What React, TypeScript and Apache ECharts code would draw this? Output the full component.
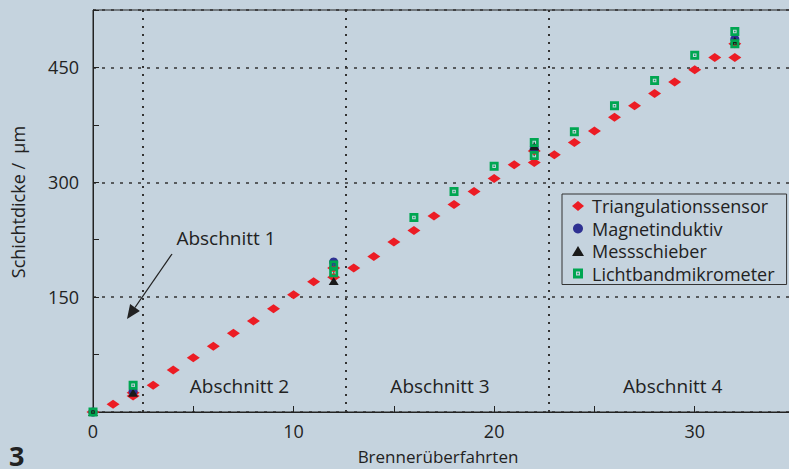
import React, { useEffect, useRef } from "react";
import * as echarts from "echarts";

const triX = [0, 1, 2, 2, 3, 4, 5, 6, 7, 8, 9, 10, 11, 12, 12, 13, 14, 15, 16, 17, 18, 19, 20, 21, 22, 22, 23, 24, 25, 26, 27, 28, 29, 30, 31, 32, 32];
const triY = [0, 10, 21, 25, 35, 55, 71, 86, 103, 119, 135, 153, 170, 176, 188, 188, 203, 222, 237, 256, 271, 288, 305, 323, 326, 341, 336, 352, 367, 385, 400, 416, 431, 447, 463, 463, 481];
const magX = [0, 2, 12, 22, 32];
const magY = [0, 27, 196, 344, 487];
const mesX = [0, 2, 12, 22, 32];
const mesY = [0, 25, 171, 347, 485];
const licX = [0, 2, 12, 12, 16, 18, 20, 22, 22, 24, 26, 28, 30, 32, 32];
const licY = [0, 35, 192, 182, 254, 288, 321, 352, 335, 366, 400, 433, 466, 497, 481];
const sectionBounds = [2.5, 12.6, 22.7];
const sectionLabels = ["Abschnitt 2", "Abschnitt 3", "Abschnitt 4"];
const sectionLabelX = [7.3, 17.3, 28.9];

const FONT = "'Open Sans', 'Noto Sans', sans-serif";
const SQUARE = "path://M0,0H10V10H0Z M3,3V7H7V3Z M4.2,4.2H5.8V5.8H4.2Z";

const zip = (xs: number[], ys: number[]) => xs.map((x, i) => [x, ys[i]]);

export default function App() {
  const ref = useRef<HTMLDivElement>(null);
  useEffect(() => {
    if (!ref.current) return;
    const chart = echarts.init(ref.current, undefined, { renderer: "svg" });
    const gridLeft = 93, gridTop = 10, gridW = 702, gridH = 402;
    const xMax = 35, yMax = 525;
    const px = (x: number) => gridLeft + (x / xMax) * gridW;
    chart.setOption({
      animation: false,
      backgroundColor: "#c5d3de",
      textStyle: { fontFamily: FONT },
      grid: {
        left: gridLeft, top: gridTop, width: gridW, height: gridH,
        show: true, borderColor: "#222", borderWidth: 1, backgroundColor: "transparent",
        containLabel: false, outerBoundsMode: "none",
      },
      xAxis: {
        type: "value", min: 0, max: xMax, interval: 10,
        axisLine: { show: true, lineStyle: { color: "#222", width: 1 } },
        axisTick: { show: true, inside: true, length: 6, lineStyle: { color: "#222" } },
        minorTick: { show: true, splitNumber: 2, length: 6, lineStyle: { color: "#222" } },
        axisLabel: { fontSize: 18, color: "#222", margin: 10, fontFamily: FONT, showMaxLabel: false },
        splitLine: { show: false },
      },
      yAxis: {
        type: "value", min: 0, max: yMax, interval: 150,
        axisLine: { show: true, lineStyle: { color: "#222", width: 1 } },
        axisTick: { show: true, inside: true, length: 6, lineStyle: { color: "#222" } },
        minorTick: { show: true, splitNumber: 2, length: 6, lineStyle: { color: "#222" } },
        axisLabel: {
          fontSize: 18, color: "#222", margin: 14, fontFamily: FONT, showMaxLabel: false,
          formatter: (v: number) => (v === 0 || v === yMax ? "" : String(v)),
        },
        splitLine: { show: true, lineStyle: { color: "#333", width: 1.5, type: [3, 6] } },
      },
      legend: {
        orient: "vertical", left: 562, top: 194,
        backgroundColor: "transparent", borderColor: "#333", borderWidth: 1,
        padding: [1, 12, 0, 10], itemGap: 0.5, itemWidth: 12, itemHeight: 10,
        textStyle: { fontSize: 18, lineHeight: 22, color: "#222", fontFamily: FONT, padding: [0, 0, 0, 3] },
        data: ["Triangulationssensor", "Magnetinduktiv", "Messschieber", "Lichtbandmikrometer"],
      },
      series: [
        {
          name: "Triangulationssensor", type: "scatter", symbol: "diamond", symbolSize: [13, 9],
          itemStyle: { color: "#ec1c24", opacity: 1 }, z: 2,
          data: zip(triX, triY),
          markLine: {
            silent: true, symbol: "none", label: { show: false },
            lineStyle: { color: "#333", width: 2, type: [2, 6] },
            data: sectionBounds.map((x) => ({ xAxis: x })),
          },
        },
        {
          name: "Magnetinduktiv", type: "scatter", symbol: "circle", symbolSize: 9,
          itemStyle: { color: "#2e3192", opacity: 1 }, z: 3,
          data: zip(magX, magY),
        },
        {
          name: "Messschieber", type: "scatter", symbol: "triangle", symbolSize: [10, 8],
          itemStyle: { color: "#1a1a1a", opacity: 1 }, z: 4,
          data: zip(mesX, mesY),
        },
        {
          name: "Lichtbandmikrometer", type: "scatter", symbol: SQUARE, symbolSize: 9,
          itemStyle: { color: "#00a651", opacity: 1 }, z: 5,
          data: zip(licX, licY),
        },
      ],
      graphic: [
        ...sectionLabels.map((t, i) => ({
          type: "text", x: px(sectionLabelX[i]), y: 386,
          style: { text: t, fontSize: 19, fill: "#222", fontFamily: FONT, align: "center", verticalAlign: "middle" },
          z: 10,
        })),
        {
          type: "text", x: 226, y: 238,
          style: { text: "Abschnitt 1", fontSize: 19, fill: "#222", fontFamily: FONT, align: "center", verticalAlign: "middle" },
          z: 10,
        },
        {
          type: "text", x: 438, y: 456,
          style: { text: "Brennerüberfahrten", fontSize: 17, fill: "#222", fontFamily: FONT, align: "center", verticalAlign: "middle" },
          z: 10,
        },
        {
          type: "text", x: 18, y: 202, rotation: Math.PI / 2,
          style: { text: "Schichtdicke /  µm", fontSize: 18, fill: "#222", fontFamily: FONT, align: "center", verticalAlign: "middle" },
          z: 10,
        },
        {
          type: "line", shape: { x1: 172, y1: 254, x2: 135, y2: 307.5 },
          style: { stroke: "#222", lineWidth: 1.3 }, z: 10,
        },
        {
          type: "polygon", shape: { points: [[127, 319], [139.9, 310.9], [130.1, 304.1]] },
          style: { fill: "#222" }, z: 10,
        },
        {
          type: "text", x: 9, y: 455,
          style: { text: "3", fontSize: 27, fontWeight: "bold", fill: "#222", fontFamily: FONT, verticalAlign: "middle" },
          z: 10,
        },
      ],
    });
    return () => chart.dispose();
  }, []);
  return (
    <div
      ref={ref}
      style={{ position: "fixed", left: 0, top: 0, width: 789, height: 469 }}
    />
  );
}
